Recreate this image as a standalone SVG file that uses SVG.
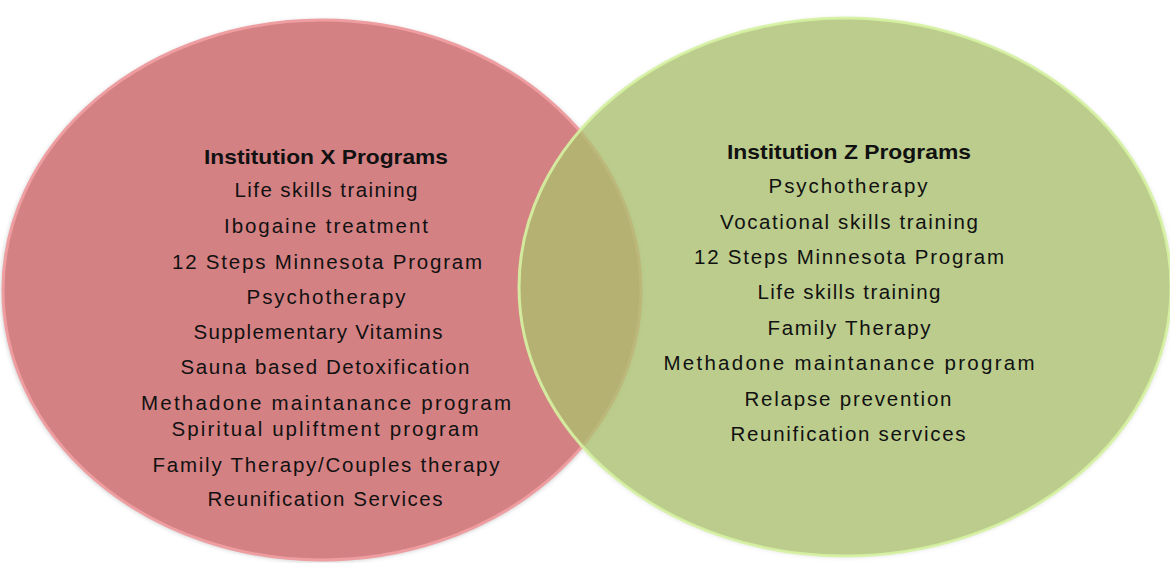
<svg xmlns="http://www.w3.org/2000/svg" width="1170" height="563" viewBox="0 0 1170 563">
  <style>
    .t { font-family: "Liberation Sans", Arial, sans-serif; font-size: 20.5px; fill: #111111; text-anchor: middle; }
    .h { font-weight: bold; }
    .red { fill: #D48184; stroke: #EE9DA0; stroke-width: 3; }
    .green { fill: #ABC26E; fill-opacity: 0.75; stroke: #D6F2A2; stroke-width: 3; stroke-opacity: 0.9; }
  </style>
  <defs>
    <filter id="sh" x="-10%" y="-10%" width="120%" height="120%">
      <feGaussianBlur stdDeviation="2"/>
    </filter>
  </defs>
  <rect width="1170" height="563" fill="#ffffff"/>
  <g id="shadows" opacity="0.35">
    <ellipse cx="322" cy="291" rx="321" ry="271" fill="#777" filter="url(#sh)"/>
    <ellipse cx="845" cy="288" rx="328" ry="270" fill="#999" filter="url(#sh)" opacity="0.6"/>
  </g>
  <g id="node-institution-x">
    <ellipse class="red" cx="322" cy="290" rx="319" ry="270"/>
    <text class="t h" x="326" y="164" textLength="244" lengthAdjust="spacingAndGlyphs">Institution X Programs</text>
    <text class="t" x="326" y="197" textLength="183" lengthAdjust="spacing">Life skills training</text>
    <text class="t" x="326" y="233" textLength="204" lengthAdjust="spacing">Ibogaine treatment</text>
    <text class="t" x="327" y="269" textLength="310" lengthAdjust="spacing">12 Steps Minnesota Program</text>
    <text class="t" x="326" y="304" textLength="159" lengthAdjust="spacing">Psychotherapy</text>
    <text class="t" x="318" y="339" textLength="249" lengthAdjust="spacing">Supplementary Vitamins</text>
    <text class="t" x="325" y="374" textLength="289" lengthAdjust="spacing">Sauna based Detoxification</text>
    <text class="t" x="326" y="410" textLength="370" lengthAdjust="spacing">Methadone maintanance program</text>
    <text class="t" x="325" y="436" textLength="307" lengthAdjust="spacing">Spiritual upliftment program</text>
    <text class="t" x="326" y="472" textLength="347" lengthAdjust="spacing">Family Therapy/Couples therapy</text>
    <text class="t" x="325" y="506" textLength="235" lengthAdjust="spacing">Reunification Services</text>
  </g>
  <g id="node-institution-z">
    <ellipse class="green" cx="845" cy="287" rx="326" ry="269"/>
    <text class="t h" x="849" y="159" textLength="244" lengthAdjust="spacingAndGlyphs">Institution Z Programs</text>
    <text class="t" x="848" y="193" textLength="159" lengthAdjust="spacing">Psychotherapy</text>
    <text class="t" x="849" y="229" textLength="258" lengthAdjust="spacing">Vocational skills training</text>
    <text class="t" x="849" y="264" textLength="310" lengthAdjust="spacing">12 Steps Minnesota Program</text>
    <text class="t" x="849" y="299" textLength="183" lengthAdjust="spacing">Life skills training</text>
    <text class="t" x="849" y="335" textLength="163" lengthAdjust="spacing">Family Therapy</text>
    <text class="t" x="849" y="370" textLength="371" lengthAdjust="spacing">Methadone maintanance program</text>
    <text class="t" x="848" y="406" textLength="207" lengthAdjust="spacing">Relapse prevention</text>
    <text class="t" x="848" y="441" textLength="235" lengthAdjust="spacing">Reunification services</text>
  </g>
  <g id="connectors"/>
</svg>
